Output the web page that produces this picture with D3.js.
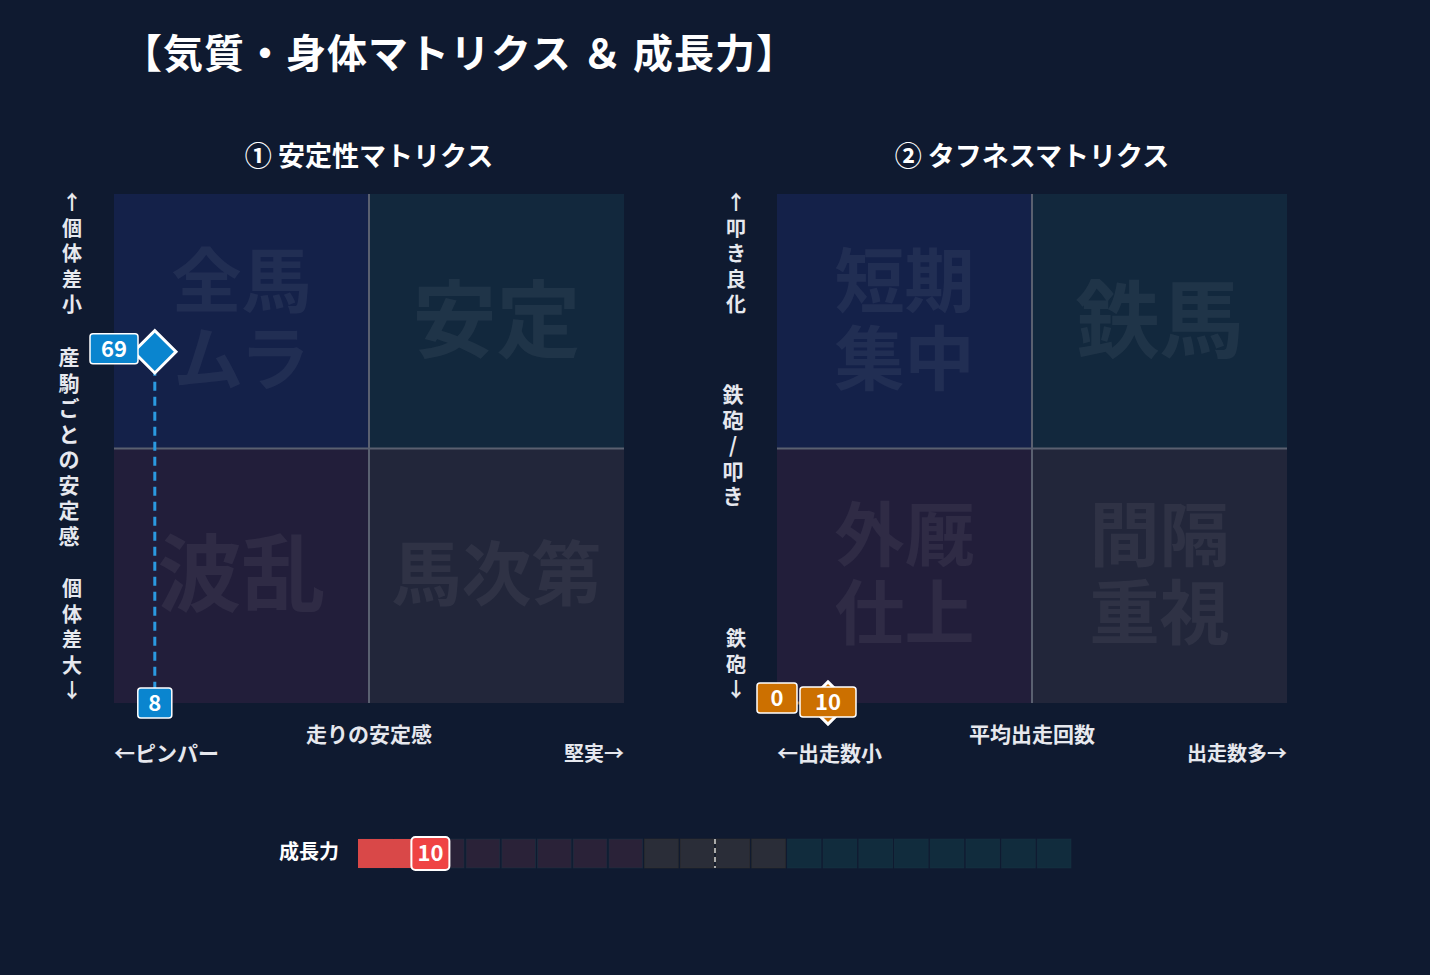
<!DOCTYPE html><html><head><meta charset="utf-8"><script src="https://d3js.org/d3.v7.min.js"></script>
<style>body{margin:0;background:#0f1a30}svg{display:block}text{font-family:"Noto Sans CJK JP";font-weight:700}</style></head><body><script>
const title="【気質・身体マトリクス ＆ 成長力】";
const m1={title:"① 安定性マトリクス",quads:["全馬\nムラ","安定","波乱","馬次第"],x:8,y:69,xl:"走りの安定感",xlo:"←ピンパー",xhi:"堅実→",yTop:"↑個体差小",yMid:"産駒ごとの安定感",yBot:"個体差大↓",color:"#0a85cf"};
const m2={title:"② タフネスマトリクス",quads:["短期\n集中","鉄馬","外厩\n仕上","間隔\n重視"],x:10,y:0,xl:"平均出走回数",xlo:"←出走数小",xhi:"出走数多→",yTop:"↑叩き良化",yMid:"鉄砲/叩き",yBot:"鉄砲↓",color:"#cc7000"};
const growth=10;
const growthSegColors=["#2a2238","#2a2238","#2a2238","#2a2238","#2a2238","#2a2238","#2a2238","#2a2238","#2a2d38","#2a2d38","#2a2d38","#2a2d38","#112c3d","#112c3d","#112c3d","#112c3d","#112c3d","#112c3d","#112c3d","#112c3d"];
const qcol=["#142149","#12283d","#221e3a","#22263a"];
const svg=d3.select("body").append("svg").attr("width",1430).attr("height",975);
svg.append("text").attr("x",122).attr("y",68).attr("fill","#fff").attr("font-size",40).attr("letter-spacing",1).text(title);
function vtext(x,y,str,step,size){const g=svg.append("text").attr("fill","#e6e8ee").attr("font-size",size).attr("text-anchor","middle");
 [...str].forEach((c,i)=>g.append("tspan").attr("x",x).attr("y",y+i*step).text(c));}
function matrix(m,x0,yc){
 const x=d3.scaleLinear().domain([0,100]).range([x0,x0+510]);
 const y=d3.scaleLinear().domain([0,100]).range([703,194]);
 svg.append("text").attr("x",x(50)).attr("y",166).attr("text-anchor","middle").attr("fill","#fff").attr("font-size",27).text(m.title);
 const q=[[0,50,100,50],[50,100,100,50],[0,50,50,0],[50,100,50,0]];
 q.forEach((d,i)=>{svg.append("rect").attr("x",x(d[0])).attr("width",x(d[1])-x(d[0])).attr("y",y(d[2])).attr("height",y(d[3])-y(d[2])).attr("fill",qcol[i]);
  const lines=m.quads[i].split("\n");const cx=(x(d[0])+x(d[1]))/2,cy=(y(d[2])+y(d[3]))/2;
  const fs=lines.length>1?70:(m.quads[i].length>2?70:84);
  lines.forEach((l,j)=>svg.append("text").attr("x",cx).attr("y",cy+(j-(lines.length-1)/2)*78+fs*0.35).attr("text-anchor","middle").attr("font-size",fs).attr("fill","#fff").attr("fill-opacity",0.06).text(l));});
 svg.append("line").attr("x1",x(50)).attr("x2",x(50)).attr("y1",y(0)).attr("y2",y(100)).attr("stroke","#5a6070").attr("stroke-width",2);
 svg.append("line").attr("x1",x(0)).attr("x2",x(100)).attr("y1",y(50)).attr("y2",y(50)).attr("stroke","#5a6070").attr("stroke-width",2);
 svg.append("text").attr("x",x(50)).attr("y",742).attr("text-anchor","middle").attr("fill","#e6e8ee").attr("font-size",21).text(m.xl);
 svg.append("text").attr("x",x(0)).attr("y",761).attr("fill","#e6e8ee").attr("font-size",21).text(m.xlo);
 svg.append("text").attr("x",x(100)).attr("y",761).attr("text-anchor","end").attr("fill","#e6e8ee").attr("font-size",20).text(m.xhi);
 vtext(yc,210,m.yTop,25.5,20);
 const midStart=m===m1?365:402; vtext(yc-3,midStart,m.yMid,25.5,21);
 vtext(yc,m===m1?596:646,m.yBot,25.5,20);
 const px=x(m.x),py=y(m.y),c=m.color;
 if(m===m1){svg.append("line").attr("x1",px).attr("x2",px).attr("y1",py).attr("y2",y(0)).attr("stroke","#2b9ae0").attr("stroke-width",3).attr("stroke-dasharray","9,6");}
 else{svg.append("line").attr("x1",x(0)).attr("x2",px).attr("y1",py).attr("y2",py).attr("stroke","#f39a2a").attr("stroke-width",3).attr("stroke-opacity",0.5).attr("stroke-dasharray","9,6");}
 svg.append("rect").attr("x",px-15).attr("y",py-15).attr("width",30).attr("height",30).attr("transform",`rotate(45 ${px} ${py})`).attr("fill",c).attr("stroke","#fff").attr("stroke-width",3);
 function lab(cx,cy,t,w){svg.append("rect").attr("x",cx-w/2).attr("y",cy-15).attr("width",w).attr("height",30).attr("rx",3).attr("fill",c).attr("stroke","#fff").attr("stroke-width",1.5);
  svg.append("text").attr("x",cx).attr("y",cy+8).attr("text-anchor","middle").attr("fill","#fff").attr("font-size",22).text(t);}
 if(m===m1){lab(x(0),py-3,m.y,48);lab(px,y(0),m.x,34);}else{lab(x(0),y(m.y)-5,m.y,40);lab(px,y(0)-1,m.x,56);}
}
matrix(m1,114,72);matrix(m2,777,736);
svg.append("text").attr("x",279).attr("y",859).attr("fill","#fff").attr("font-size",20).text("成長力");
const g=d3.scaleLinear().domain([0,100]).range([358,1072]);
growthSegColors.forEach((c,i)=>svg.append("rect").attr("x",g(i*5)+1).attr("y",839).attr("width",g(5)-g(0)-2).attr("height",29).attr("fill",c).attr("stroke",c==="#2a2d38"?"#3a3428":"#1a3a48").attr("stroke-opacity",0.4));
svg.append("rect").attr("x",g(0)).attr("y",839).attr("width",g(growth)-g(0)).attr("height",29).attr("fill","#d94848");
svg.append("line").attr("x1",g(50)).attr("x2",g(50)).attr("y1",839).attr("y2",868).attr("stroke","#aaa").attr("stroke-width",2).attr("stroke-dasharray","5,4");
svg.append("rect").attr("x",g(growth)-18).attr("y",837).attr("width",38).attr("height",33).attr("rx",4).attr("fill","#ef4444").attr("stroke","#fff").attr("stroke-width",2);
svg.append("text").attr("x",g(growth)+1).attr("y",861).attr("text-anchor","middle").attr("fill","#fff").attr("font-size",22).text(growth);
</script></body></html>
